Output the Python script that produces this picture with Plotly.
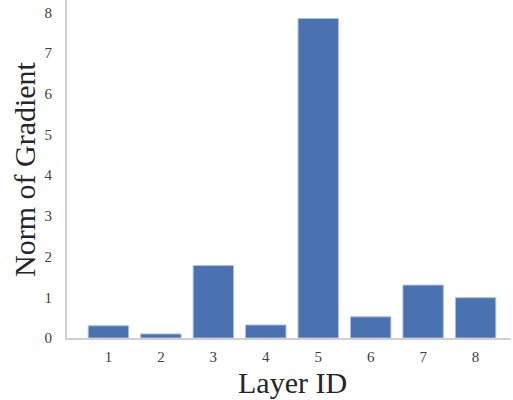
import plotly.graph_objects as go

layers = [1, 2, 3, 4, 5, 6, 7, 8]
tick_labels = ["1", "2", "3", "4", "5", "6", "7", "8"]
grad_norm = [0.30, 0.10, 1.78, 0.32, 7.85, 0.52, 1.30, 0.99]

FONT = "Liberation Serif, Times New Roman, serif"
W, H = 513, 400
ML, MR, MT, MB = 67, 2, 0, 62
PW, PH = W - ML - MR, H - MT - MB

def px_x(page_x):
    return (page_x - ML) / PW

def px_y(page_y):
    return (MT + PH - page_y) / PH

fig = go.Figure(
    go.Bar(
        x=layers,
        y=grad_norm,
        marker=dict(color="#4A71B0", line=dict(color="#A9C0E3", width=1)),
        width=0.77,
        hoverinfo="skip",
    )
)

fig.update_layout(
    width=W,
    height=H,
    margin=dict(l=ML, r=MR, t=MT, b=MB),
    paper_bgcolor="white",
    plot_bgcolor="white",
    showlegend=False,
    font=dict(family=FONT, color="#404040", size=15),
    annotations=[
        dict(text="Layer ID", xref="paper", yref="paper",
             x=px_x(292), y=px_y(383),
             xanchor="center", yanchor="middle", showarrow=False,
             font=dict(family=FONT, size=30, color="#262626")),
        dict(text="Norm of Gradient", xref="paper", yref="paper",
             x=px_x(24), y=px_y(169), textangle=-90,
             xanchor="center", yanchor="middle", showarrow=False,
             font=dict(family=FONT, size=30, color="#262626")),
    ],
)

fig.update_xaxes(
    range=[0.21, 8.675],
    tickmode="array",
    tickvals=layers,
    ticktext=tick_labels,
    showgrid=False,
    zeroline=False,
    showline=True,
    linecolor="#D0D0D0",
    linewidth=2,
    ticks="",
    automargin=False,
    ticklabelstandoff=4,
    tickfont=dict(family=FONT, size=15, color="#404040"),
)

fig.update_yaxes(
    range=[0, PH / 40.7],
    tickvals=[0, 1, 2, 3, 4, 5, 6, 7, 8],
    showgrid=False,
    zeroline=False,
    showline=True,
    linecolor="#D0D0D0",
    linewidth=2,
    ticks="",
    automargin=False,
    ticklabeloverflow="allow",
    ticklabelstandoff=10,
    tickfont=dict(family=FONT, size=15, color="#404040"),
)

fig.write_html(
    "out.html",
    config={"displayModeBar": False},
    post_script="document.body.style.margin='0';",
)
